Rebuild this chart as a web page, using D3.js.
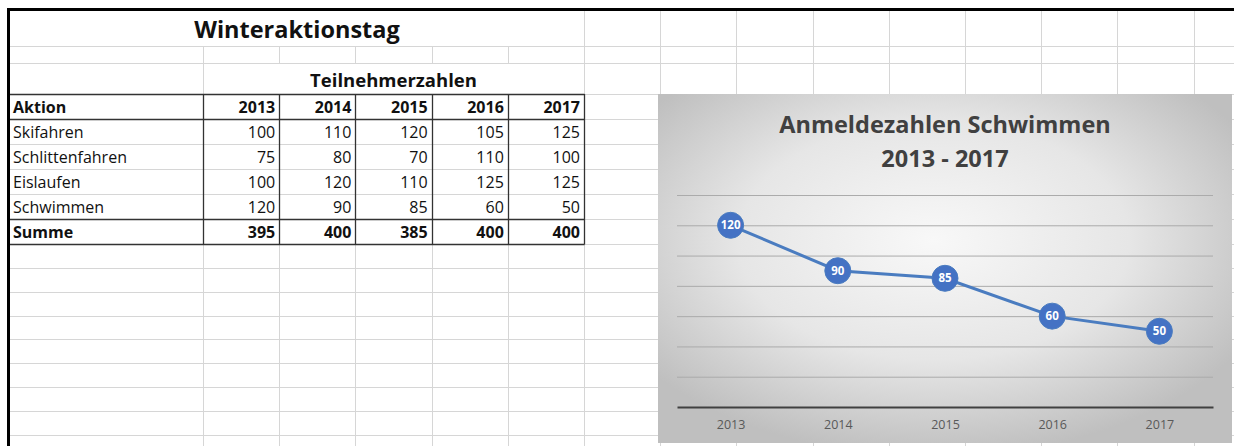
<!DOCTYPE html>
<html>
<head>
<meta charset="utf-8">
<script src="https://cdn.jsdelivr.net/npm/d3@7"></script>
<style>
  body { margin: 0; background: #fff; }
  svg { display: block; font-family: "Open Sans", "Noto Sans", sans-serif; }
</style>
</head>
<body>
<div id="sheet"></div>
<script>
// table data
var years = ["2013", "2014", "2015", "2016", "2017"];
var actions = ["Skifahren", "Schlittenfahren", "Eislaufen", "Schwimmen"];
var skifahren = [100, 110, 120, 105, 125];
var schlittenfahren = [75, 80, 70, 110, 100];
var eislaufen = [100, 120, 110, 125, 125];
var schwimmen = [120, 90, 85, 60, 50];
var summe = [395, 400, 385, 400, 400];
var rows = [skifahren, schlittenfahren, eislaufen, schwimmen];

var sheetTitle = "Winteraktionstag";
var subTitle = "Teilnehmerzahlen";
var chartTitle = ["Anmeldezahlen Schwimmen", "2013 - 2017"];

var W = 1234, H = 446;

var svg = d3.select("#sheet").append("svg")
    .attr("width", W)
    .attr("height", H);

// spreadsheet grid geometry
var x0 = 10, firstColW = 193, colW = 76.2;
var colEdges = [x0, x0 + firstColW];
while (colEdges[colEdges.length - 1] < W) colEdges.push(colEdges[colEdges.length - 1] + colW);

var rowHeights = [37, 17, 31, 25, 25, 25, 25, 25, 25];
var rowEdges = [9];
rowHeights.forEach(function (h) { rowEdges.push(rowEdges[rowEdges.length - 1] + h); });
while (rowEdges[rowEdges.length - 1] < H) rowEdges.push(rowEdges[rowEdges.length - 1] + 23.85);

var gridColor = "#d6d6d6";
var grid = svg.append("g");

// horizontal light lines
grid.selectAll("line.h")
    .data(rowEdges.slice(1))
    .enter().append("line")
    .attr("x1", x0).attr("x2", W)
    .attr("y1", function (d) { return Math.round(d) + 0.5; })
    .attr("y2", function (d) { return Math.round(d) + 0.5; })
    .style("stroke", gridColor);

// vertical light lines, skipping merged cells
function vline(x, ya, yb) {
    grid.append("line")
        .attr("x1", Math.round(x) + 0.5).attr("x2", Math.round(x) + 0.5)
        .attr("y1", ya).attr("y2", yb)
        .style("stroke", gridColor);
}
colEdges.slice(1).forEach(function (x, i) {
    var ci = i + 1;
    // title row merged over the first six columns
    if (ci >= 6) vline(x, rowEdges[0], rowEdges[1]);
    vline(x, rowEdges[1], rowEdges[2]);
    if (ci == 1 || ci >= 6) vline(x, rowEdges[2], rowEdges[3]);
    vline(x, rowEdges[3], H);
});

// frame
svg.append("line").attr("x1", 7).attr("x2", W).attr("y1", 9.5).attr("y2", 9.5)
    .style("stroke", "#000").style("stroke-width", 3);
svg.append("line").attr("x1", 8.5).attr("x2", 8.5).attr("y1", 8).attr("y2", H)
    .style("stroke", "#000").style("stroke-width", 3);

// titles
svg.append("text")
    .attr("x", (colEdges[0] + colEdges[6]) / 2).attr("y", 38)
    .attr("text-anchor", "middle")
    .style("font-size", "23.5px").style("font-weight", "bold").style("fill", "#111")
    .text(sheetTitle);
svg.append("text")
    .attr("x", (colEdges[1] + colEdges[6]) / 2).attr("y", 87)
    .attr("text-anchor", "middle")
    .style("font-size", "18.5px").style("font-weight", "bold").style("fill", "#111")
    .text(subTitle);

// table body
var table = svg.append("g").style("font-size", "16px").style("fill", "#111");
var headY = rowEdges[3], rowH = 25, base = 19;

table.append("text").attr("x", 13).attr("y", headY + base)
    .style("font-weight", "bold").text("Aktion");
table.selectAll("text.year")
    .data(years).enter().append("text")
    .attr("x", function (d, i) { return colEdges[i + 2] - 4; })
    .attr("y", headY + base)
    .attr("text-anchor", "end")
    .style("font-weight", "bold")
    .text(function (d) { return d; });

actions.forEach(function (a, r) {
    var yb = headY + rowH * (r + 1) + base;
    table.append("text").attr("x", 13).attr("y", yb).text(a);
    table.selectAll(null)
        .data(rows[r]).enter().append("text")
        .attr("x", function (d, i) { return colEdges[i + 2] - 4; })
        .attr("y", yb)
        .attr("text-anchor", "end")
        .text(function (d) { return d; });
});

var sumY = headY + rowH * 5 + base;
table.append("text").attr("x", 13).attr("y", sumY)
    .style("font-weight", "bold").text("Summe");
table.selectAll(null)
    .data(summe).enter().append("text")
    .attr("x", function (d, i) { return colEdges[i + 2] - 4; })
    .attr("y", sumY)
    .attr("text-anchor", "end")
    .style("font-weight", "bold")
    .text(function (d) { return d; });

// dark table borders
var dark = svg.append("g").style("stroke", "#333").style("stroke-width", 1.3);
[0, 1, 5, 6].forEach(function (k) {
    var y = Math.round(headY + rowH * k) + 0.5;
    dark.append("line").attr("x1", x0).attr("x2", colEdges[6] + 0.5).attr("y1", y).attr("y2", y);
});
colEdges.slice(1, 7).forEach(function (x) {
    var xx = Math.round(x) + 0.5;
    dark.append("line").attr("x1", xx).attr("x2", xx).attr("y1", headY).attr("y2", headY + rowH * 6 + 0.5);
});

// ---------- chart ----------
var chart = { left: 658, top: 94, right: 1232, bottom: 443 };
var margin = { top: 195 - chart.top, right: chart.right - 1213, bottom: chart.bottom - 407, left: 677 - chart.left };
var cw = chart.right - chart.left, ch = chart.bottom - chart.top;
var width = cw - margin.left - margin.right;
var height = ch - margin.top - margin.bottom;

var defs = svg.append("defs");
var grad = defs.append("radialGradient")
    .attr("id", "bg")
    .attr("cx", "48%").attr("cy", "42%").attr("r", "62%");
grad.append("stop").attr("offset", "0%").style("stop-color", "#f8f8f8");
grad.append("stop").attr("offset", "55%").style("stop-color", "#e6e6e6");
grad.append("stop").attr("offset", "100%").style("stop-color", "#bfbfbf");

var cg = svg.append("g")
    .attr("transform", "translate(" + chart.left + "," + chart.top + ")");
cg.append("rect")
    .attr("width", cw).attr("height", ch)
    .style("fill", "url(#bg)");

cg.selectAll("text.ct")
    .data(chartTitle).enter().append("text")
    .attr("x", cw / 2)
    .attr("y", function (d, i) { return 39 + i * 34; })
    .attr("text-anchor", "middle")
    .style("font-size", "23.5px").style("font-weight", "bold").style("fill", "#404040")
    .text(function (d) { return d; });

var plot = cg.append("g")
    .attr("transform", "translate(" + margin.left + "," + margin.top + ")");

var x = d3.scalePoint().domain(years).range([0, width]).padding(0.5);
var y = d3.scaleLinear().domain([0, 140]).range([height, 0]);

// gridlines
plot.append("g")
    .call(d3.axisLeft(y).tickValues(y.ticks(7).slice(1)).tickSize(-width).tickFormat(""))
    .call(function (g) { g.select(".domain").remove(); })
    .selectAll("line").style("stroke", "#ababab");

// x axis
var xAxis = plot.append("g")
    .attr("transform", "translate(0," + height + ")")
    .call(d3.axisBottom(x).tickSize(0).tickPadding(13));
xAxis.select(".domain").style("stroke", "#404040").style("stroke-width", 2.2);
xAxis.selectAll("text")
    .style("font-size", "12.5px").style("fill", "#595959")
    .style("font-family", "'Open Sans', sans-serif");

var line = d3.line()
    .x(function (d, i) { return x(years[i]); })
    .y(function (d) { return y(d); });

plot.append("path")
    .datum(schwimmen)
    .attr("d", line)
    .style("fill", "none")
    .style("stroke", "#4a7cc0")
    .style("stroke-width", 3);

var pts = plot.selectAll("g.pt")
    .data(schwimmen).enter().append("g")
    .attr("transform", function (d, i) { return "translate(" + x(years[i]) + "," + y(d) + ")"; });
pts.append("circle")
    .attr("r", 13)
    .style("fill", "#4472c4")
    .style("stroke", "#4a7cc0")
    .style("stroke-width", 1);
pts.append("text")
    .attr("dy", "0.36em")
    .attr("text-anchor", "middle")
    .style("font-size", "11.5px").style("font-weight", "bold").style("fill", "#fff")
    .text(function (d) { return d; });
</script>
</body>
</html>
